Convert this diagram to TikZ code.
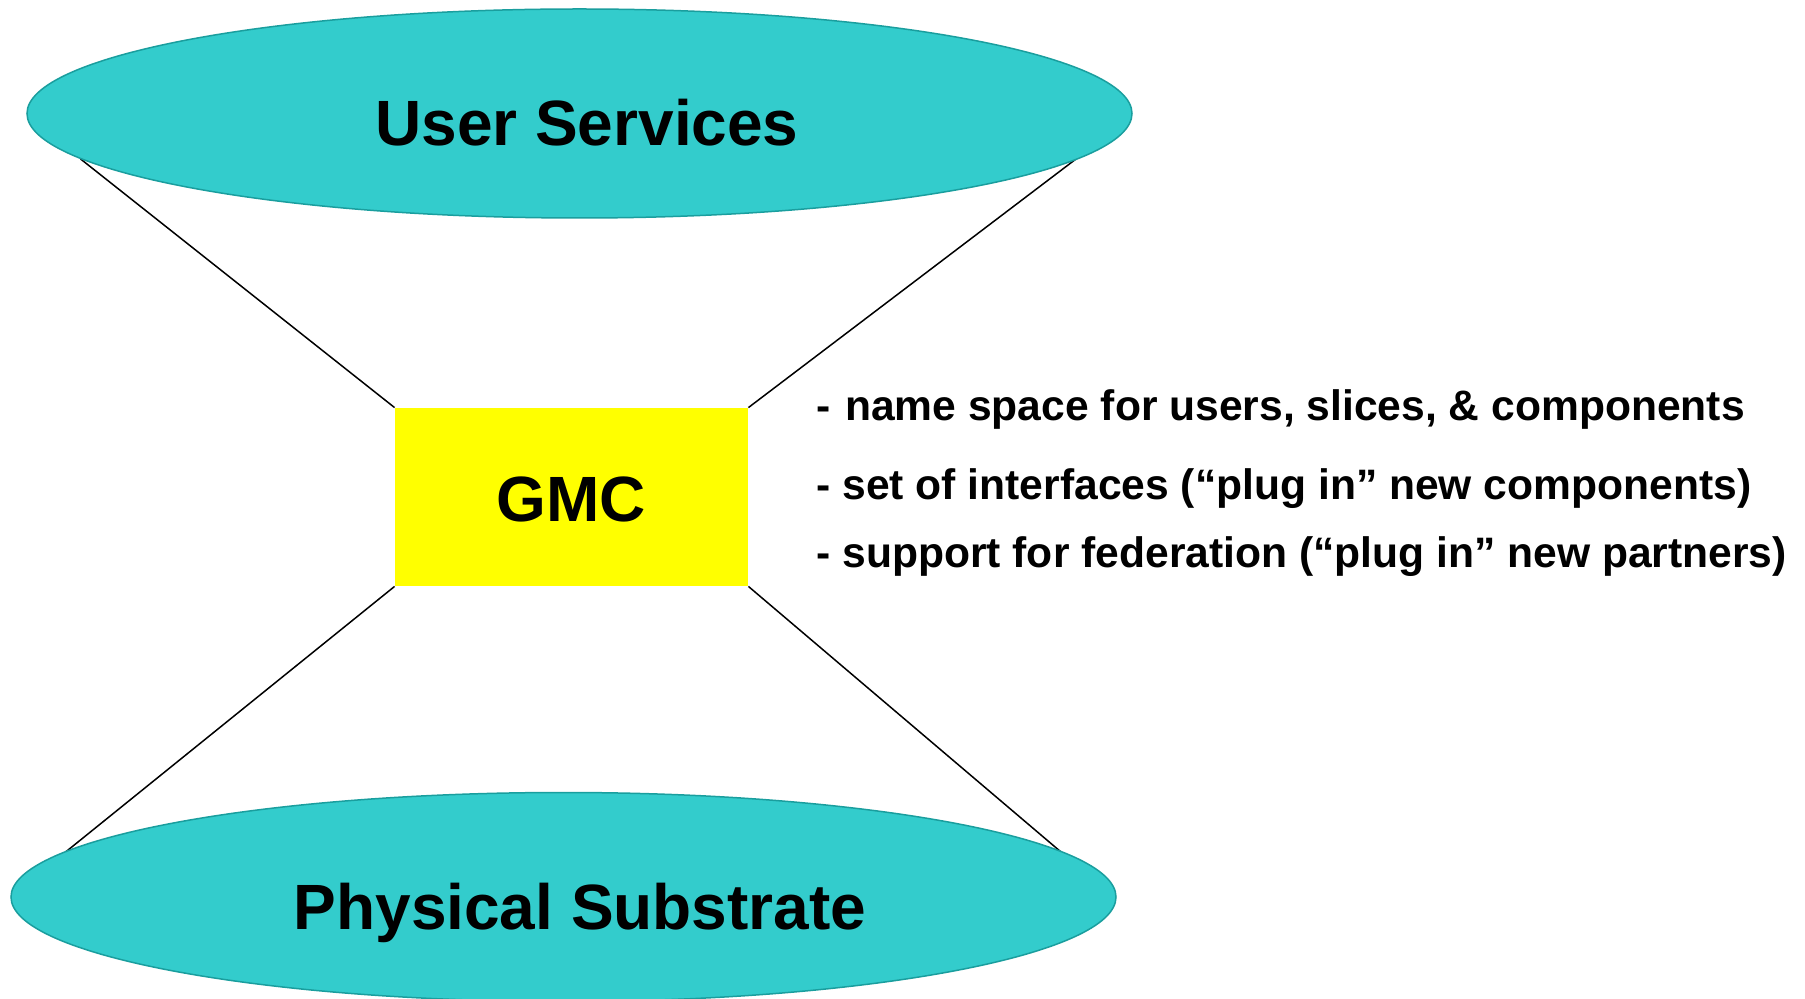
\documentclass[tikz,border=0pt]{standalone}
\usepackage{fontspec}
\setmainfont{Liberation Sans}
\usetikzlibrary{shapes.geometric}
\definecolor{ovalfill}{HTML}{33CCCC}
\definecolor{ovalline}{HTML}{1A9E9E}
\definecolor{boxfill}{HTML}{FFFF00}
\begin{document}
\begin{tikzpicture}[x=0.5pt,y=-0.5pt,
  oval/.style={ellipse, draw=ovalline, line width=0.75pt, fill=ovalfill, inner sep=0pt,
               minimum width=552.5pt, minimum height=104.5pt},
  gmcbox/.style={fill=boxfill, inner sep=0pt, minimum width=176.5pt, minimum height=89pt},
  bigtext/.style={font=\fontsize{32}{38}\selectfont\bfseries, anchor=base, inner sep=0pt},
  bullettext/.style={font=\fontsize{21.3}{26}\selectfont\bfseries, anchor=base west, inner sep=0pt},
  link/.style={draw=black, line width=0.75pt}]
\useasboundingbox (0,0) rectangle (1805,999);
% end points of the connectors on the ellipse borders
\coordinate (ustl) at (80.6,159);
\coordinate (ustr) at (1076,159);
\coordinate (psbl) at (65.6,852);
\coordinate (psbr) at (1061,852);
\node[gmcbox] (gmc) at (571.5,497) {};
\draw[link] (ustl) -- (gmc.north west);
\draw[link] (ustr) -- (gmc.north east);
\draw[link] (psbl) -- (gmc.south west);
\draw[link] (psbr) -- (gmc.south east);
\node[oval] (us) at (579.5,113.5) {};
\node[oval] (ps) at (563.5,897) {};
% labels
\node[bigtext] (ustext) at (587,146) {User Services};
\node[bigtext] (pstext) at (580,929) {Physical Substrate};
\node[bigtext] (gmctext) at (571,522) {GMC};
\node[bullettext] (b1) at (816,421) {-\hspace{7.3pt}name space for users, slices, \& components};
\node[bullettext] (b2) at (816,500) {- set of interfaces (“plug in” new components)};
\node[bullettext] (b3) at (816,568) {- support for federation (“plug in” new partners)};
\end{tikzpicture}
\end{document}
